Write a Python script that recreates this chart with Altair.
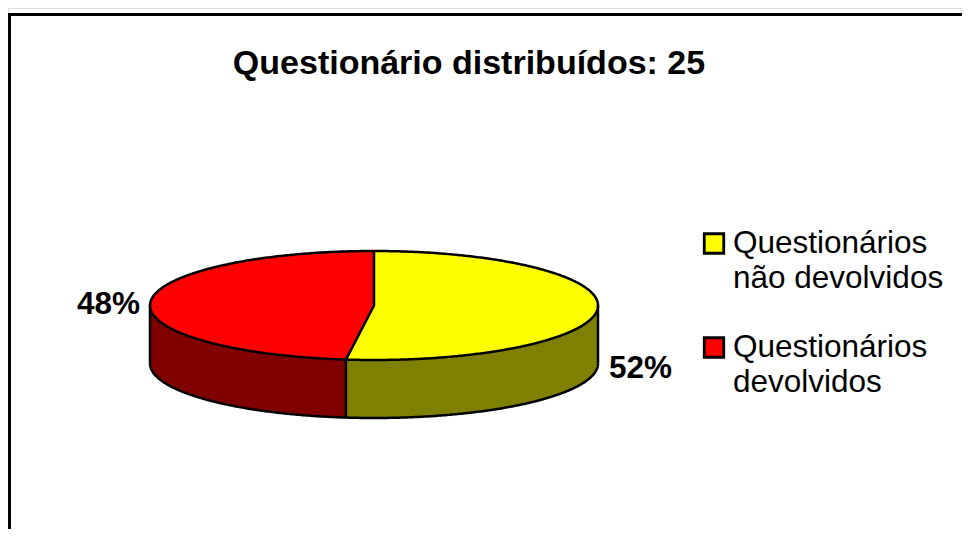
import numpy as np
import pandas as pd
import altair as alt

# ---- chart values
categories = ["Questionários não devolvidos", "Questionários devolvidos"]
shares = [52, 48]
percent_labels = ["52%", "48%"]
title_text = "Questionário distribuídos: 25"
legend_lines = [["Questionários", "não devolvidos"], ["Questionários", "devolvidos"]]
top_colors = ["#ffff00", "#ff0000"]
side_colors = ["#808000", "#800000"]

# ---- layout (page pixels)
W, H = 954, 521
CX, CY, RX, RY, DEPTH = 374.0, 305.5, 224.0, 54.5, 58.0
FONT = "Liberation Sans"
px = lambda v: v - 8

# the x/y scales map the unit ellipse of the pie onto the page
x_scale = alt.Scale(domain=[(8 - CX) / RX, (8 + W - CX) / RX], range=[0, W], nice=False, zero=False)
y_scale = alt.Scale(domain=[(CY - 8) / RY, (CY - 8 - H) / RY], range=[0, H], nice=False, zero=False)
depth = DEPTH / RY

# slice boundary angle measured clockwise from 12 o'clock
cut = 2 * np.pi * shares[0] / sum(shares)
cx, cy = np.sin(cut), np.cos(cut)
grid = np.linspace(0, np.pi, 361)


def ellipse_xs(lo, hi):
    xs = np.cos(grid)
    xs = np.concatenate([xs, [lo, hi]])
    return np.unique(xs[(xs >= lo) & (xs <= hi)])


def half(x):
    return np.sqrt(np.clip(1 - x * x, 0, 1))


def radial(x):
    return x / cx * cy


X = alt.X("x:Q", scale=x_scale, axis=None)
Y = alt.Y("y:Q", scale=y_scale, axis=None, stack=None)


def area_layer(xs, y1, y2, color):
    df = pd.DataFrame({"x": xs, "y": y1, "y2": y2})
    return alt.Chart(df).mark_area(color=color, opacity=1, interpolate="linear").encode(
        X, Y, y2=alt.Y2("y2:Q")
    )


area_layers = []
# side walls
xs = ellipse_xs(cx, 1.0)
area_layers.append(area_layer(xs, -half(xs), -half(xs) - depth, side_colors[0]))
xs = ellipse_xs(-1.0, cx)
area_layers.append(area_layer(xs, -half(xs), -half(xs) - depth, side_colors[1]))

# top faces
xs = ellipse_xs(cx, 0.0)
area_layers.append(area_layer(xs, radial(xs), -half(xs), top_colors[0]))
xs = ellipse_xs(0.0, 1.0)
area_layers.append(area_layer(xs, half(xs), -half(xs), top_colors[0]))
xs = ellipse_xs(-1.0, 0.0)
area_layers.append(area_layer(xs, half(xs), np.where(xs > cx, radial(xs), -half(xs)), top_colors[1]))

# outlines
lines = []


def add_line(group, xs, ys):
    for i, (a, b) in enumerate(zip(xs, ys)):
        lines.append(dict(g=group, i=i, x=a, y=b))


t = np.linspace(0, 2 * np.pi, 721)
add_line("rim", np.sin(t), np.cos(t))
t = np.linspace(np.pi / 2, 3 * np.pi / 2, 361)
add_line("bottom", np.sin(t), np.cos(t) - depth)
add_line("left", [-1, -1], [0, -depth])
add_line("right", [1, 1], [0, -depth])
add_line("cutedge", [cx, cx], [cy, cy - depth])
add_line("spokes", [0, 0, cx], [1, 0, cy])
line_df = pd.DataFrame(lines)

outlines = (
    alt.Chart(line_df)
    .mark_line(color="black", strokeWidth=2.5, strokeJoin="miter", clip=False)
    .encode(X, Y, detail="g:N", order="i:Q")
)

# frame: only the top and left edges are visible
frame_left = alt.Chart(pd.DataFrame({"a": [0]})).mark_rule(color="black", strokeWidth=3).encode(
    x=alt.value(px(9.5)), y=alt.value(px(13)), y2=alt.value(H)
)
frame_top = alt.Chart(pd.DataFrame({"a": [0]})).mark_rule(color="black", strokeWidth=3).encode(
    x=alt.value(px(8)), x2=alt.value(W), y=alt.value(px(14.5))
)


def text_layer(text, x, y, size, bold=False, align="left"):
    return alt.Chart(pd.DataFrame({"t": [text]})).mark_text(
        font=FONT, fontSize=size, fontWeight="bold" if bold else "normal",
        align=align, baseline="alphabetic", color="black",
    ).encode(text="t:N", x=alt.value(px(x)), y=alt.value(px(y)))


layers = area_layers + [outlines, frame_left, frame_top]
layers.append(text_layer(title_text, 469, 74, 34, True, "center"))
layers.append(text_layer(percent_labels[0], 609, 378, 31.5, True))
layers.append(text_layer(percent_labels[1], 77, 314, 31.5, True))

square_y = [243.5, 347.5]
baselines = [[253, 288], [357, 392]]
for k, cat in enumerate(categories):
    layers.append(
        alt.Chart(pd.DataFrame({"c": [cat]})).mark_square(
            size=380, fill=top_colors[k], stroke="black", strokeWidth=2.8, opacity=1
        ).encode(x=alt.value(px(714)), y=alt.value(px(square_y[k])))
    )
    for line, base in zip(legend_lines[k], baselines[k]):
        layers.append(text_layer(line, 733, base, 31.5))

chart = (
    alt.layer(*layers)
    .properties(width=W, height=H, padding=0, autosize=alt.AutoSizeParams(type="none"))
    .configure_view(stroke=None)
    .configure(background="white")
)
chart.save("out.html", embed_options={"renderer": "svg", "actions": False})
